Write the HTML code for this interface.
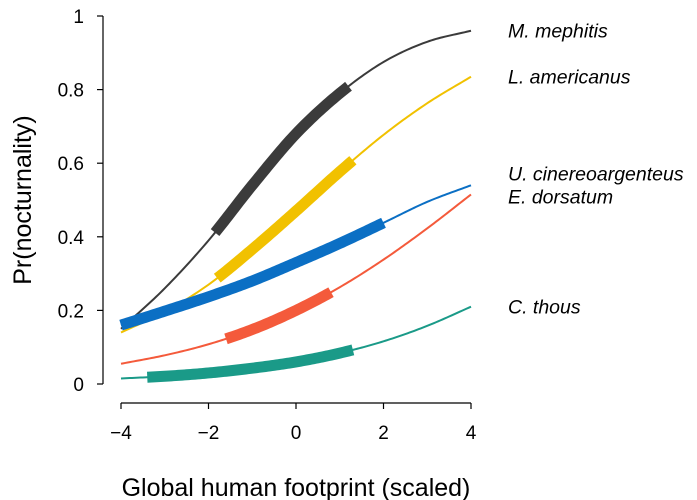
<!DOCTYPE html>
<html><head><meta charset="utf-8"><style>
body{margin:0;background:#fff;}
svg{display:block;font-family:"Liberation Sans",sans-serif;}
</style></head><body>
<svg id="chart" width="697" height="500"></svg>
<script>
const xs=[-4,-3,-2,-1,0,1,2,3,4];
const species=["M. mephitis","L. americanus","U. cinereoargenteus","E. dorsatum","C. thous"];
const mephitis=[0.15,0.26,0.39,0.54,0.68,0.79,0.875,0.93,0.96];
const americanus=[0.14,0.196,0.27,0.366,0.47,0.577,0.677,0.763,0.835];
const cinereo=[0.16,0.198,0.237,0.28,0.33,0.382,0.438,0.495,0.54];
const dorsatum=[0.055,0.078,0.108,0.148,0.2,0.263,0.338,0.423,0.515];
const thous=[0.015,0.021,0.03,0.043,0.06,0.084,0.116,0.158,0.21];
const rangeMin=[-1.85,-1.8,-4,-1.6,-3.4];
const rangeMax=[1.2,1.3,2,0.8,1.3];
const xTicks=[-4,-2,0,2,4];
const yTicks=[0,0.2,0.4,0.6,0.8,1];
const yTickLabels=["0","0.2","0.4","0.6","0.8","1"];
const labelY=[0.96,0.835,0.575,0.52,0.21];
const labelDy=[0,0,1,4,0];
const colors=["#3b3b3b","#f1c100","#0b6fc4","#f45a3b","#1a9a88"];
const series=[mephitis,americanus,cinereo,dorsatum,thous];

const NS="http://www.w3.org/2000/svg";
const svg=document.getElementById('chart');
const X=v=>296+v*43.75;
const Y=v=>384-v*368;
function el(t,a,p){const e=document.createElementNS(NS,t);for(const k in a)e.setAttribute(k,a[k]);(p||svg).appendChild(e);return e;}
function interp(arr,x){
  const n=xs.length;
  let i=Math.min(n-2,Math.max(0,Math.floor(x-xs[0])));
  const t=x-xs[i];
  const p1=arr[i],p2=arr[i+1];
  const p0=i>0?arr[i-1]:2*arr[0]-arr[1];
  const p3=i+2<n?arr[i+2]:2*arr[n-1]-arr[n-2];
  return 0.5*((2*p1)+(-p0+p2)*t+(2*p0-5*p1+4*p2-p3)*t*t+(-p0+3*p1-3*p2+p3)*t*t*t);
}
function path(arr,a,b){let d="";for(let x=a;x<=b+1e-9;x+=0.05){d+=(d?"L":"M")+X(x).toFixed(2)+","+Y(interp(arr,x)).toFixed(2);}return d;}

const yl=el('line',{x1:103,x2:103,y1:Y(1),y2:Y(0),stroke:'#000','stroke-width':1.2});

const xl=el('line',{x1:X(-4),x2:X(4),y1:403,y2:403,stroke:'#000','stroke-width':1.2});

yTicks.forEach((v,i)=>{
  const t=el('line',{x1:97,x2:103,y1:Y(v),y2:Y(v),stroke:'#000','stroke-width':1.2});
  
  const l=el('text',{x:84,y:Y(v)+7,'text-anchor':'end','font-size':19});l.textContent=yTickLabels[i];
  
});
xTicks.forEach(v=>{
  const t=el('line',{x1:X(v),x2:X(v),y1:403,y2:409,stroke:'#000','stroke-width':1.2});
  
  const l=el('text',{x:X(v),y:439,'text-anchor':'middle','font-size':19});l.textContent=(v<0?"\u2212"+(-v):v);
  
});
const xt=el('text',{x:296,y:496,'text-anchor':'middle','font-size':25});xt.textContent="Global human footprint (scaled)";

const yt=el('text',{x:0,y:0,'text-anchor':'middle','font-size':25,transform:'translate(31,200) rotate(-90)'});yt.textContent="Pr(nocturnality)";


series.forEach((arr,i)=>{
  const g=el('g',{});
  
  
  const thin=el('path',{d:path(arr,-4,4),fill:'none',stroke:colors[i],'stroke-width':2},g);
  
  const thick=el('path',{d:path(arr,rangeMin[i],rangeMax[i]),fill:'none',stroke:colors[i],'stroke-width':11},g);
  
  const lb=el('text',{x:508,y:Y(labelY[i])+7+labelDy[i],'font-size':19.5,'font-style':'italic'},g);
  lb.textContent=species[i];
  
});
</script>
</body></html>
